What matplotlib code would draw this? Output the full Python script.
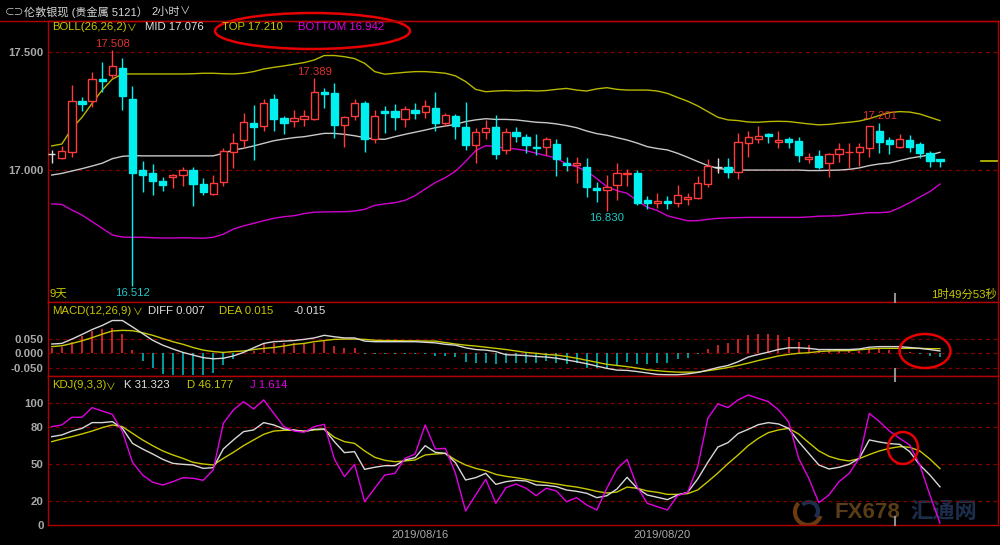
import matplotlib
matplotlib.use('Agg')
import matplotlib.pyplot as plt
from matplotlib.patches import Ellipse, Arc
from matplotlib.lines import Line2D
import numpy as np

plt.rcParams['font.family'] = ['Liberation Sans', 'Noto Sans CJK SC', 'DejaVu Sans']

W, H = 1000, 545

# 2h candles, London silver
opens = [17.068, 17.051, 17.079, 17.294, 17.293, 17.386, 17.403, 17.432, 17.301, 17.003,
         16.987, 16.956, 16.970, 16.979, 17.000, 16.942, 16.900, 16.952, 17.079, 17.128,
         17.201, 17.187, 17.301, 17.220, 17.210, 17.215, 17.215, 17.330, 17.325, 17.192,
         17.230, 17.283, 17.132, 17.251, 17.251, 17.215, 17.255, 17.245, 17.262, 17.199,
         17.230, 17.185, 17.107, 17.161, 17.182, 17.086, 17.161, 17.142, 17.100, 17.100,
         17.111, 17.030, 17.024, 17.015, 16.925, 16.917, 16.938, 16.985, 16.990, 16.875,
         16.863, 16.872, 16.861, 16.877, 16.882, 16.942, 17.015, 17.015, 16.994, 17.117,
         17.131, 17.152, 17.121, 17.131, 17.124, 17.048, 17.061, 17.032, 17.068, 17.076,
         17.079, 17.093, 17.168, 17.128, 17.097, 17.128, 17.111, 17.072, 17.048]
highs = [17.086, 17.103, 17.361, 17.311, 17.417, 17.456, 17.508, 17.473, 17.356, 17.041,
         17.027, 16.973, 16.985, 17.013, 17.015, 16.969, 16.980, 17.093, 17.156, 17.241,
         17.276, 17.301, 17.323, 17.230, 17.255, 17.255, 17.389, 17.346, 17.368, 17.230,
         17.300, 17.294, 17.255, 17.273, 17.279, 17.272, 17.283, 17.297, 17.330, 17.241,
         17.238, 17.290, 17.177, 17.213, 17.234, 17.180, 17.185, 17.152, 17.154, 17.139,
         17.134, 17.058, 17.058, 17.054, 16.952, 16.980, 17.030, 17.004, 17.001, 16.892,
         16.903, 16.892, 16.938, 16.903, 16.976, 17.046, 17.051, 17.051, 17.156, 17.168,
         17.187, 17.159, 17.166, 17.142, 17.142, 17.075, 17.086, 17.072, 17.117, 17.114,
         17.117, 17.187, 17.201, 17.142, 17.152, 17.149, 17.121, 17.082, 17.048]
lows = [17.030, 17.046, 17.058, 17.252, 17.269, 17.332, 17.389, 17.255, 16.512, 16.907,
        16.896, 16.914, 16.927, 16.935, 16.851, 16.896, 16.896, 16.935, 17.008, 17.093,
        17.044, 17.168, 17.168, 17.152, 17.182, 17.187, 17.213, 17.262, 17.135, 17.097,
        17.213, 17.079, 17.114, 17.156, 17.170, 17.185, 17.217, 17.220, 17.168, 17.187,
        17.131, 17.086, 17.030, 17.131, 17.048, 17.068, 17.121, 17.075, 17.065, 17.065,
        16.977, 16.997, 16.945, 16.886, 16.865, 16.830, 16.875, 16.934, 16.854, 16.835,
        16.842, 16.835, 16.846, 16.854, 16.877, 16.928, 16.987, 16.966, 16.962, 17.058,
        17.114, 17.114, 17.093, 17.093, 17.037, 17.030, 17.004, 16.973, 17.037, 17.008,
        17.018, 17.055, 17.072, 17.068, 17.093, 17.079, 17.051, 17.015, 17.015]
closes = [17.068, 17.082, 17.293, 17.280, 17.386, 17.377, 17.441, 17.315, 16.990, 16.982,
          16.955, 16.939, 16.979, 17.000, 16.944, 16.908, 16.945, 17.082, 17.114, 17.204,
          17.185, 17.286, 17.218, 17.200, 17.220, 17.228, 17.330, 17.323, 17.192, 17.224,
          17.286, 17.131, 17.231, 17.244, 17.227, 17.258, 17.244, 17.273, 17.199, 17.234,
          17.187, 17.107, 17.161, 17.177, 17.068, 17.161, 17.145, 17.107, 17.094, 17.131,
          17.048, 17.024, 17.030, 16.931, 16.917, 16.930, 16.987, 16.990, 16.861, 16.861,
          16.872, 16.861, 16.896, 16.889, 16.945, 17.018, 17.015, 16.994, 17.121, 17.139,
          17.146, 17.145, 17.128, 17.121, 17.065, 17.058, 17.015, 17.069, 17.089, 17.079,
          17.097, 17.187, 17.121, 17.110, 17.132, 17.097, 17.072, 17.041, 17.041]

boll_top = [17.103, 17.111, 17.177, 17.224, 17.283, 17.339, 17.385, 17.407, 17.407, 17.407,
            17.407, 17.407, 17.407, 17.407, 17.408, 17.410, 17.410, 17.408, 17.407, 17.410,
            17.417, 17.428, 17.435, 17.441, 17.448, 17.455, 17.466, 17.485, 17.485, 17.480,
            17.472, 17.452, 17.417, 17.406, 17.410, 17.414, 17.417, 17.417, 17.414, 17.410,
            17.399, 17.375, 17.342, 17.332, 17.335, 17.337, 17.335, 17.337, 17.335, 17.337,
            17.342, 17.346, 17.339, 17.335, 17.344, 17.349, 17.342, 17.339, 17.339, 17.339,
            17.335, 17.325, 17.308, 17.292, 17.272, 17.248, 17.224, 17.213, 17.210, 17.204,
            17.203, 17.206, 17.207, 17.206, 17.201, 17.196, 17.192, 17.194, 17.199, 17.203,
            17.208, 17.218, 17.232, 17.244, 17.248, 17.246, 17.238, 17.224, 17.210]
boll_mid = [16.980, 16.987, 16.997, 17.007, 17.018, 17.030, 17.049, 17.059, 17.062, 17.061,
            17.061, 17.061, 17.061, 17.061, 17.061, 17.061, 17.061, 17.072, 17.086, 17.093,
            17.103, 17.114, 17.125, 17.132, 17.138, 17.142, 17.149, 17.156, 17.156, 17.152,
            17.146, 17.138, 17.132, 17.131, 17.142, 17.152, 17.161, 17.170, 17.180, 17.187,
            17.194, 17.206, 17.213, 17.218, 17.215, 17.215, 17.213, 17.208, 17.203, 17.201,
            17.196, 17.189, 17.180, 17.166, 17.155, 17.148, 17.138, 17.128, 17.115, 17.100,
            17.092, 17.086, 17.072, 17.055, 17.037, 17.020, 17.008, 17.003, 17.001, 17.001,
            17.001, 17.001, 17.001, 17.001, 17.001, 16.999, 16.999, 17.000, 17.001, 17.004,
            17.010, 17.020, 17.027, 17.031, 17.041, 17.051, 17.058, 17.065, 17.076]
boll_bot = [16.858, 16.856, 16.832, 16.811, 16.783, 16.755, 16.727, 16.718, 16.717, 16.717,
            16.715, 16.714, 16.714, 16.715, 16.714, 16.713, 16.717, 16.730, 16.752, 16.765,
            16.776, 16.787, 16.797, 16.804, 16.808, 16.817, 16.823, 16.824, 16.825, 16.825,
            16.828, 16.835, 16.852, 16.858, 16.863, 16.873, 16.893, 16.921, 16.948, 16.969,
            16.996, 17.037, 17.083, 17.104, 17.100, 17.093, 17.090, 17.083, 17.072, 17.062,
            17.051, 17.027, 17.015, 16.997, 16.965, 16.931, 16.914, 16.903, 16.872, 16.844,
            16.830, 16.808, 16.797, 16.787, 16.787, 16.793, 16.797, 16.799, 16.800, 16.801,
            16.801, 16.801, 16.801, 16.801, 16.801, 16.803, 16.806, 16.807, 16.808, 16.813,
            16.817, 16.821, 16.821, 16.824, 16.842, 16.863, 16.887, 16.910, 16.942]

macd_hist = [0.016, 0.022, 0.039, 0.059, 0.076, 0.084, 0.086, 0.067, 0.010, -0.026,
             -0.052, -0.073, -0.075, -0.075, -0.075, -0.075, -0.069, -0.043, -0.020, -0.001,
             0.007, 0.033, 0.035, 0.033, 0.033, 0.030, 0.035, 0.043, 0.024, 0.016,
             0.016, -0.003, -0.004, -0.004, -0.004, -0.004, -0.004, -0.005, -0.012, -0.012,
             -0.015, -0.030, -0.033, -0.035, -0.039, -0.035, -0.033, -0.033, -0.033, -0.026,
             -0.035, -0.039, -0.035, -0.050, -0.052, -0.050, -0.041, -0.030, -0.039, -0.039,
             -0.035, -0.035, -0.022, -0.016, -0.002, 0.014, 0.027, 0.033, 0.048, 0.061,
             0.067, 0.067, 0.061, 0.056, 0.039, 0.027, 0.014, 0.010, 0.010, 0.008,
             0.008, 0.018, 0.016, 0.012, 0.009, 0.005, -0.002, -0.010, -0.014]
macd_diff = [0.031, 0.033, 0.048, 0.064, 0.081, 0.095, 0.112, 0.112, 0.090, 0.067,
             0.044, 0.027, 0.014, 0.002, -0.007, -0.016, -0.020, -0.018, -0.010, 0.002,
             0.018, 0.033, 0.039, 0.041, 0.043, 0.047, 0.052, 0.061, 0.056, 0.052,
             0.052, 0.041, 0.039, 0.039, 0.039, 0.039, 0.039, 0.037, 0.035, 0.030,
             0.027, 0.018, 0.012, 0.010, 0.005, -0.006, -0.007, -0.009, -0.012, -0.014,
             -0.018, -0.024, -0.030, -0.037, -0.045, -0.053, -0.059, -0.060, -0.064, -0.069,
             -0.074, -0.075, -0.075, -0.072, -0.067, -0.059, -0.050, -0.043, -0.030, -0.014,
             -0.005, 0.003, 0.012, 0.018, 0.018, 0.016, 0.012, 0.012, 0.012, 0.012,
             0.014, 0.020, 0.022, 0.022, 0.022, 0.019, 0.016, 0.012, 0.007]
macd_dea = [0.022, 0.025, 0.033, 0.042, 0.053, 0.065, 0.076, 0.078, 0.077, 0.070,
            0.061, 0.050, 0.039, 0.030, 0.019, 0.010, 0.005, 0.002, 0.005, 0.007,
            0.012, 0.016, 0.019, 0.024, 0.030, 0.033, 0.039, 0.043, 0.047, 0.048,
            0.048, 0.047, 0.044, 0.043, 0.043, 0.042, 0.042, 0.041, 0.041, 0.036,
            0.031, 0.027, 0.024, 0.020, 0.016, 0.012, 0.007, 0.002, -0.001, -0.005,
            -0.007, -0.012, -0.018, -0.025, -0.032, -0.039, -0.043, -0.047, -0.052, -0.058,
            -0.061, -0.064, -0.066, -0.066, -0.066, -0.061, -0.056, -0.050, -0.043, -0.035,
            -0.026, -0.018, -0.010, -0.005, -0.001, 0.001, 0.005, 0.007, 0.008, 0.008,
            0.011, 0.014, 0.016, 0.016, 0.016, 0.016, 0.016, 0.015, 0.015]

kdj_k = [72.4, 73.8, 77.0, 79.2, 83.9, 83.9, 84.7, 79.2, 66.9, 62.3,
         58.2, 53.8, 50.5, 49.7, 49.2, 46.4, 47.0, 62.3, 69.7, 76.5,
         77.9, 83.9, 82.0, 78.7, 77.9, 76.5, 78.4, 78.7, 68.3, 59.3,
         60.1, 45.6, 47.3, 48.6, 48.6, 53.3, 55.2, 65.0, 59.6, 58.7,
         51.1, 36.9, 38.8, 42.3, 33.3, 35.5, 36.6, 36.1, 32.8, 32.5,
         31.4, 28.7, 27.6, 26.0, 22.4, 24.0, 29.5, 39.1, 30.1, 24.6,
         22.7, 20.8, 24.6, 26.8, 37.7, 51.4, 63.9, 67.5, 74.9, 78.4,
         82.2, 83.9, 82.8, 79.2, 68.3, 58.7, 49.2, 45.9, 47.3, 49.7,
         54.6, 69.7, 68.0, 66.7, 66.1, 60.1, 49.2, 41.0, 31.3]
kdj_d = [68.3, 70.5, 72.4, 74.6, 77.0, 79.8, 82.0, 80.6, 75.1, 69.7,
         65.0, 60.7, 57.4, 54.6, 51.4, 50.0, 49.2, 54.6, 59.6, 65.0,
         69.7, 74.3, 77.0, 77.6, 77.6, 77.0, 77.9, 78.4, 71.9, 68.3,
         66.9, 60.7, 55.5, 53.0, 51.9, 52.5, 53.3, 57.4, 58.2, 58.7,
         53.3, 49.2, 46.4, 44.5, 41.5, 39.9, 38.8, 37.4, 35.8, 34.7,
         33.6, 32.2, 31.1, 29.5, 27.6, 26.2, 27.0, 31.1, 30.1, 27.9,
         26.8, 25.1, 25.1, 25.7, 28.7, 35.5, 42.6, 50.3, 57.4, 65.0,
         71.0, 75.7, 77.9, 79.2, 74.6, 67.5, 60.7, 56.3, 53.8, 52.5,
         54.4, 57.7, 60.7, 62.8, 64.2, 63.7, 60.7, 54.1, 46.2]
kdj_j = [80.6, 82.0, 88.3, 88.3, 96.2, 93.4, 90.7, 76.5, 51.4, 41.0,
         35.0, 32.8, 35.5, 38.8, 38.3, 36.6, 45.1, 83.3, 94.3, 101.1,
         95.1, 102.5, 91.5, 80.6, 77.0, 76.0, 80.6, 82.5, 54.1, 39.6,
         49.7, 19.1, 30.1, 41.0, 42.3, 54.6, 58.2, 82.0, 62.3, 62.8,
         42.3, 11.5, 24.6, 37.4, 17.8, 30.6, 33.6, 30.1, 24.0, 30.1,
         27.9, 19.1, 22.4, 16.4, 12.3, 30.1, 45.9, 53.8, 31.4, 17.8,
         15.0, 12.3, 24.0, 26.8, 47.8, 87.4, 99.2, 96.2, 102.5, 106.6,
         103.8, 101.1, 94.3, 84.7, 54.6, 38.3, 18.3, 24.6, 35.5, 42.3,
         54.6, 91.5, 84.7, 77.0, 71.0, 65.6, 49.2, 24.6, 1.6]

high_marks = [6, 26, 82]   # candles whose high is labelled
low_marks = [8, 55]        # candles whose low is labelled
date_ticks = [36.5, 60.5]
date_labels = ['2019/08/16', '2019/08/20']

# colours
BORDER = '#b00000'
GRID = '#800000'
GRAY = '#a8a8a8'
RED = '#ff3c3c'
CYAN = '#00f0f0'
YEL = '#c8c800'
WHITE = '#e0e0e0'
MAG = '#e000e0'

fig = plt.figure(figsize=(10, 5.45), dpi=100, facecolor='black')


def panel(x0, y0, x1, y1, ylim):
    ax = fig.add_axes([x0 / W, 1 - y1 / H, (x1 - x0) / W, (y1 - y0) / H])
    ax.set_facecolor('black')
    for s in ax.spines.values():
        s.set_color(BORDER)
        s.set_linewidth(1)
    ax.set_xticks([])
    ax.tick_params(axis='both', length=0, pad=3, labelcolor=GRAY, labelsize=8.2)
    ax.set_xlim(-0.37, 93.75)
    ax.set_ylim(*ylim)
    return ax


def grid(ax, levels):
    for v in levels:
        ax.axhline(v, color=GRID, ls=(0, (3, 3)), lw=0.9, zorder=1)


def ftext(x, y, s, color, size=8.2, **kw):
    fig.text(x / W, 1 - y / H, s, color=color, fontsize=size, va='center', **kw)


x = np.arange(len(closes))
o, hi, lo, c = map(np.array, (opens, highs, lows, closes))

# ---- main candle panel
ax = panel(48, 20.5, 998, 302, (16.4436, 17.6329))
grid(ax, [17.0, 17.5])
ax.set_yticks([17.0, 17.5])
ax.set_yticklabels(['17.000', '17.500'], fontweight='bold')

ax.plot(x, boll_top, color='#b8b800', lw=1, zorder=2)
ax.plot(x, boll_mid, color='#c8c8c8', lw=1, zorder=2)
ax.plot(x, boll_bot, color='#d000d0', lw=1, zorder=2)

col = np.where(c > o, RED, np.where(c < o, CYAN, WHITE))
face = np.where(c > o, 'black', col)
ax.vlines(x, lo, hi, colors=col, lw=1, zorder=3)
ax.bar(x, np.abs(c - o), bottom=np.minimum(o, c), width=0.72, color=face,
       edgecolor=col, linewidth=1, zorder=4)

for i in high_marks:
    ax.annotate('%.3f' % highs[i], (i, highs[i]), xytext=(0, 1), textcoords='offset points',
                ha='center', va='bottom', color='#e03030', fontsize=8.2, zorder=5)
for i in low_marks:
    ax.annotate('%.3f' % lows[i], (i, lows[i]), xytext=(0, -1.5), textcoords='offset points',
                ha='center', va='top', color='#20c8c8', fontsize=8.2, zorder=5)

# last price marker on the right edge
ax.axhline(closes[-1], xmin=(981 - 48) / 950, xmax=1, color=YEL, lw=1.2)

# ---- MACD panel
ax2 = panel(48, 302, 998, 376, (-0.0793, 0.1759))
grid(ax2, [-0.05, 0.0, 0.05])
ax2.set_yticks([-0.05, 0.0, 0.05])
ax2.set_yticklabels(['-0.050', '0.000', '0.050'], fontweight='bold')
hist = np.array(macd_hist)
ax2.vlines(x, 0, hist, colors=np.where(hist > 0, '#ff3030', '#00c8c8'), lw=1.1, zorder=2)
ax2.plot(x, macd_dea, color=YEL, lw=1, zorder=3)
ax2.plot(x, macd_diff, color='#d8d8d8', lw=1, zorder=3)

# ---- KDJ panel
ax3 = panel(48, 376, 998, 525, (0, 122.1))
grid(ax3, [20, 50, 80, 100])
ax3.set_yticks([0, 20, 50, 80, 100])
ax3.set_yticklabels(['0', '20', '50', '80', '100'], fontweight='bold')
ax3.set_xticks(date_ticks)
ax3.set_xticklabels(date_labels, fontsize=8.2)
ax3.tick_params(axis='x', pad=3.5)
ax3.plot(x, kdj_d, color=YEL, lw=1, zorder=3)
ax3.plot(x, kdj_k, color='#d8d8d8', lw=1, zorder=3)
ax3.plot(x, kdj_j, color=MAG, lw=1, zorder=3)

# watermark
ax3.text(834 / W, 1 - 512 / H, 'FX678', transform=fig.transFigure, color='#5a3c16',
         fontsize=16, fontweight='bold', va='center', zorder=0.5)
ax3.text(910 / W, 1 - 512 / H, '汇通网', transform=fig.transFigure, color='#1c2e4c',
         fontsize=16, fontweight='bold', family=['Noto Sans CJK SC'], va='center', zorder=0.5)
ax3.add_patch(Arc((808 / W, 1 - 512 / H), 26 / W, 26 / H, theta1=120, theta2=330,
                  transform=fig.transFigure, color='#6a3a12', lw=3, zorder=0.5))
ax3.add_patch(Arc((809 / W, 1 - 511 / H), 18 / W, 18 / H, theta1=300, theta2=120,
                  transform=fig.transFigure, color='#1c2e4c', lw=3, zorder=0.5))

# ---- frame lines and cursor ticks
fig.add_artist(Line2D([0, 1], [1 - 20.5 / H] * 2, color=BORDER, lw=1))
for y0, y1 in [(294, 302), (369, 376), (376, 381), (517, 525)]:
    fig.add_artist(Line2D([895 / W] * 2, [1 - y0 / H, 1 - y1 / H], color='#909090', lw=1.5))

# ---- header texts
ftext(5, 12, '⊂⊃', '#c8c8c8', size=7)
ftext(24, 12, '伦敦银现 (贵金属 5121）', '#d8d8d8', size=8)
ftext(151, 12, '2小时', '#d8d8d8', size=8)
ftext(180, 12, '∨', '#d8d8d8', size=7.5)

ftext(52, 27, 'BOLL(26,26,2)', YEL)
ftext(127, 28, '∨', YEL, size=7)
ftext(145, 27, 'MID 17.076', WHITE)
ftext(222, 27, 'TOP 17.210', YEL)
ftext(298, 27, 'BOTTOM 16.942', MAG)

ftext(52, 310.5, 'MACD(12,26,9)', YEL)
ftext(133, 311.5, '∨', YEL, size=7)
ftext(148, 310.5, 'DIFF 0.007', WHITE)
ftext(219, 310.5, 'DEA 0.015', YEL)
ftext(293, 310.5, '-0.015', WHITE)

ftext(52, 385.5, 'KDJ(9,3,3)', YEL)
ftext(106, 386.5, '∨', YEL, size=7)
ftext(124, 385.5, 'K 31.323', WHITE)
ftext(187, 385.5, 'D 46.177', YEL)
ftext(250, 385.5, 'J 1.614', MAG)

ftext(49, 294, '9天', YEL)
ftext(997, 294, '1时49分53秒', YEL, ha='right')

# ---- red hand-drawn marks
for cx, cy, w, h in [(312.5, 31, 195, 36), (925, 351, 51, 34), (903, 448, 30, 32)]:
    fig.add_artist(Ellipse((cx / W, 1 - cy / H), w / W, h / H, transform=fig.transFigure,
                           fill=False, ec='#e80000', lw=1.8))

fig.savefig('out.png', dpi=100, facecolor='black')
